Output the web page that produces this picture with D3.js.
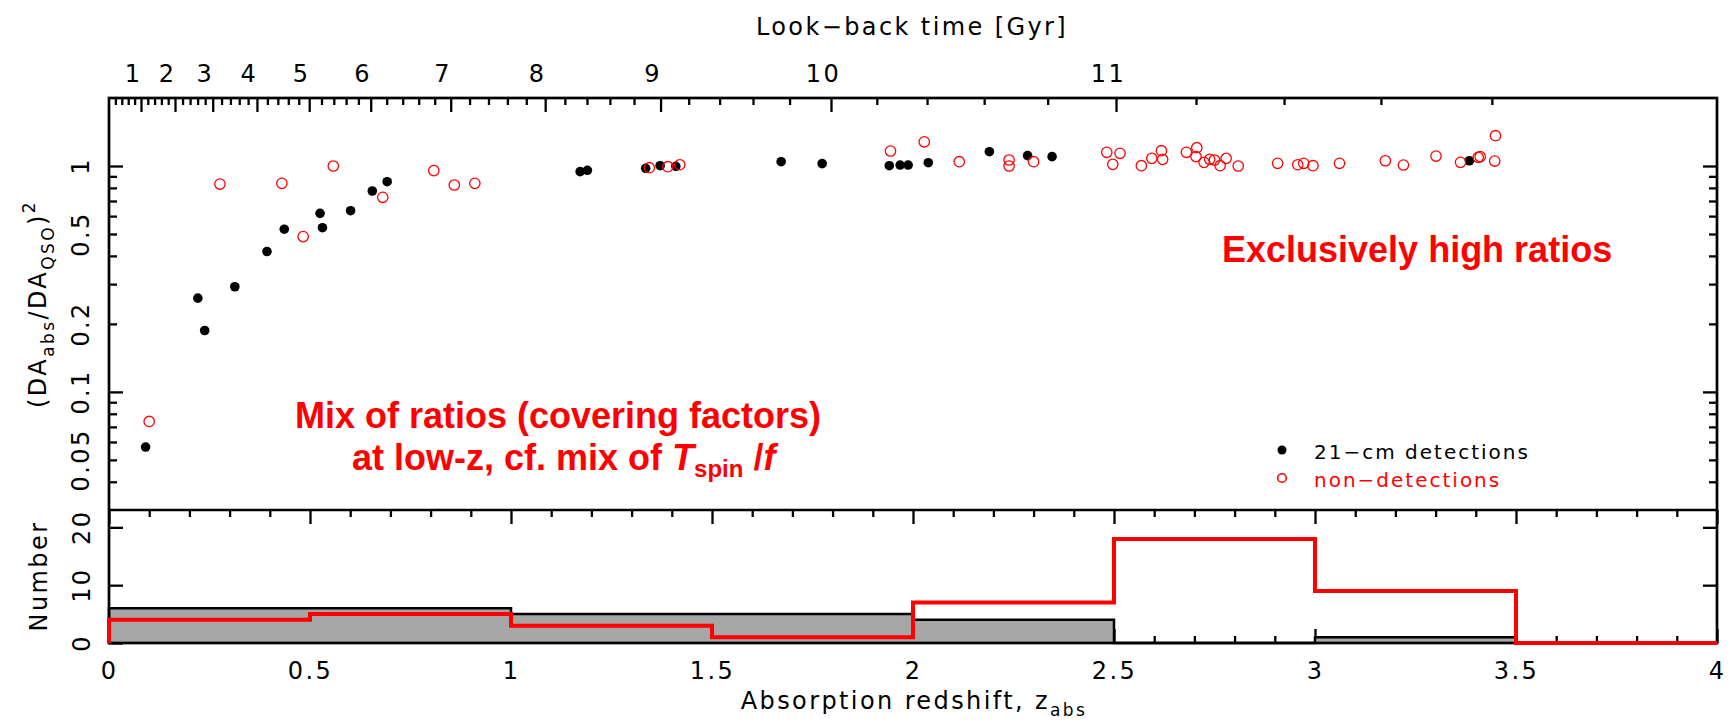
<!DOCTYPE html>
<html>
<head>
<meta charset="utf-8">
<script src="https://cdnjs.cloudflare.com/ajax/libs/d3/7.8.5/d3.min.js"></script>
<style>
body { margin:0; background:#fff; }
.pg { font-family:"DejaVu Sans", sans-serif; letter-spacing:0.1em; }
.tick line { stroke:#000; stroke-width:2.3; }
</style>
</head>
<body>
<div id="chart"></div>
<script>
// ---- data ----
// 21-cm detections: redshift and (DA_abs/DA_QSO)^2
var detZ = [0.091,0.221,0.238,0.313,0.393,0.436,0.525,0.531,0.601,0.655,0.692,
            1.172,1.190,1.335,1.371,1.410,1.672,1.774,1.941,1.968,1.988,
            2.038,2.190,2.285,2.346,3.384];
var detRatio = [0.057,0.26,0.187,0.292,0.418,0.525,0.617,0.533,0.634,0.775,0.852,
                0.944,0.957,0.977,1.003,0.997,1.045,1.024,1.003,1.010,1.010,
                1.034,1.157,1.111,1.10,1.055];

// non-detections
var nonZ = [0.100,0.276,0.430,0.483,0.558,0.681,0.808,0.859,0.910,
            1.344,1.390,1.420,1.944,
            2.028,2.115,2.239,2.239,2.300,2.482,2.497,
            2.515,2.568,2.594,2.618,2.621,2.680,2.706,2.704,2.724,2.738,2.750,2.764,2.779,2.809,
            2.907,2.957,2.972,2.995,
            3.061,3.175,3.220,3.301,3.362,3.406,3.411,3.447,3.449];
var nonRatio = [0.074,0.832,0.838,0.487,1.0,0.727,0.954,0.824,0.838,
                0.983,0.993,1.013,1.165,
                1.28,1.045,1.063,1.0,1.045,1.15,1.017,
                1.138,1.003,1.081,1.169,1.07,1.15,1.205,1.10,1.038,1.07,1.063,1.003,1.081,1.0,
                1.028,1.013,1.028,1.003,
                1.028,1.055,1.01,1.107,1.038,1.092,1.10,1.052,1.362];

// histogram (bins of 0.5 in z)
var binEdges = [0,0.5,1,1.5,2,2.5,3,3.5,4];
var histDet = [6,6,5,5,4,0,1,0];
var histNon = [4,5,3,1,7,18,9,0];

// look-back time axis: Gyr -> redshift
var lbGyr = [0,1,2,3,4,5,6,7,8,8.2,8.4,8.6,8.8,9,9.2,9.4,9.6,9.8,10,
             10.2,10.4,10.6,10.8,11,11.2,11.4,11.6,11.8];
var lbZ = [0,0.0796,0.1642,0.258,0.368,0.498,0.651,0.850,1.085,1.134,1.189,1.246,1.306,1.372,
           1.442,1.519,1.602,1.693,1.796,1.910,2.035,2.177,2.335,2.505,2.704,2.923,3.164,3.440];
var lbLabels = [1,2,3,4,5,6,7,8,9,10,11];

var zTicks = [0,0.5,1,1.5,2,2.5,3,3.5,4];
var ratioLabels = [0.05,0.1,0.2,0.5,1];
var ratioMajor = [0.1,1];
var ratioMinor = [0.04,0.05,0.06,0.07,0.08,0.09,0.2,0.3,0.4,0.5,0.6,0.7,0.8,0.9];
var numTicks = [0,10,20];

// ---- layout ----
var W = 1733, H = 728;
var pL = 109, pR = 1717, pT = 98, pM = 510, pB = 643;

var svg = d3.select("#chart").append("svg")
    .attr("width", W).attr("height", H);

var x = d3.scaleLinear().domain([0,4]).range([pL,pR]);
var y = d3.scaleLog().domain([0.03,2]).range([pM,pT]);
var yh = d3.scaleLinear().domain([0,23]).range([pB,pM]);
var lb = d3.scaleLinear().domain(lbGyr).range(lbZ.map(function(z){ return x(z); }));

var lbMinor = d3.range(1,60).filter(function(i){ return i % 5 != 0; })
                .map(function(i){ return i/5; });
var zMinor = d3.range(1,40).filter(function(i){ return i % 5 != 0; })
                .map(function(i){ return i/10; });

function styleAxis(g) {
  g.select(".domain").remove();
  g.selectAll("text").attr("class","pg").attr("font-size",24)
    .attr("font-family","DejaVu Sans").attr("fill","#000");
}

// top axis: look-back time
svg.append("g").attr("transform","translate(0,"+pT+")")
   .call(d3.axisTop(lb).tickValues(lbMinor).tickSize(-7).tickFormat(""))
   .call(styleAxis);
svg.append("g").attr("transform","translate(0,"+pT+")")
   .call(d3.axisTop(lb).tickValues(lbLabels).tickSize(-14).tickPadding(16))
   .call(styleAxis)
   .selectAll("text").attr("dx",-8);

// upper panel y ticks (left + right), histogram count ticks
[[d3.axisLeft, pL],[d3.axisRight, pR]].forEach(function(a){
  svg.append("g").attr("transform","translate("+a[1]+",0)")
     .call(a[0](y).tickValues(ratioMinor).tickSize(-8).tickFormat(""))
     .call(styleAxis);
  svg.append("g").attr("transform","translate("+a[1]+",0)")
     .call(a[0](y).tickValues(ratioMajor).tickSize(-14).tickFormat(""))
     .call(styleAxis);
  svg.append("g").attr("transform","translate("+a[1]+",0)")
     .call(a[0](yh).tickValues(numTicks).tickSize(-14).tickFormat(""))
     .call(styleAxis);
});

// z ticks: top of histogram panel (down) and bottom (up)
svg.append("g").attr("transform","translate(0,"+pM+")")
   .call(d3.axisBottom(x).tickValues(zMinor).tickSize(7).tickFormat("")).call(styleAxis);
svg.append("g").attr("transform","translate(0,"+pM+")")
   .call(d3.axisBottom(x).tickValues(zTicks).tickSize(14).tickFormat("")).call(styleAxis);
svg.append("g").attr("transform","translate(0,"+pB+")")
   .call(d3.axisBottom(x).tickValues(zMinor).tickSize(-7).tickFormat("")).call(styleAxis);
svg.append("g").attr("transform","translate(0,"+pB+")")
   .call(d3.axisBottom(x).tickValues(zTicks).tickSize(-14).tickPadding(19)
         .tickFormat(function(d){ return d3.format("")(d); }))
   .call(styleAxis);

// rotated y tick labels
svg.selectAll(".ylab").data(ratioLabels).enter().append("text")
   .attr("class","pg").attr("font-size",24).attr("text-anchor","middle")
   .attr("transform", function(d){ return "translate(89,"+y(d)+") rotate(-90)"; })
   .text(function(d){ return d; });
svg.selectAll(".hlab").data(numTicks).enter().append("text")
   .attr("class","pg").attr("font-size",24).attr("text-anchor","middle")
   .attr("transform", function(d){ return "translate(90,"+yh(d)+") rotate(-90)"; })
   .text(function(d){ return d; });

// histogram
function stepPoints(counts) {
  var p = [[0,0]];
  counts.forEach(function(c,i){ p.push([binEdges[i], c]); });
  p.push([4, counts[counts.length-1]]);
  p.push([4, 0]);
  return p;
}
var step = d3.line().curve(d3.curveStepAfter)
    .x(function(d){ return x(d[0]); }).y(function(d){ return yh(d[1]); });

svg.append("path").attr("d", step(stepPoints(histDet)) + "Z")
   .attr("fill","#a6a6a6").attr("stroke","none");
svg.append("path").attr("d", step(stepPoints(histDet)))
   .attr("fill","none").attr("stroke","#000").attr("stroke-width",2.5);

// frame
var frame = svg.append("g").attr("fill","none").attr("stroke","#000").attr("stroke-width",2.7);
frame.append("rect").attr("x",pL).attr("y",pT).attr("width",pR-pL).attr("height",pB-pT);
frame.append("line").attr("x1",pL).attr("x2",pR).attr("y1",pM).attr("y2",pM);

svg.append("path").attr("d", step(stepPoints(histNon)))
   .attr("fill","none").attr("stroke","#ff0000").attr("stroke-width",4);

// scatter points
svg.append("g").selectAll("circle").data(detZ).enter().append("circle")
   .attr("cx", function(d){ return x(d); })
   .attr("cy", function(d,i){ return y(detRatio[i]); })
   .attr("r",4.8).attr("fill","#000");
svg.append("g").selectAll("circle").data(nonZ).enter().append("circle")
   .attr("cx", function(d){ return x(d); })
   .attr("cy", function(d,i){ return y(nonRatio[i]); })
   .attr("r",5.2).attr("fill","none").attr("stroke","#ff0000").attr("stroke-width",1.3);

// axis titles
svg.append("text").attr("class","pg").attr("font-size",24).attr("text-anchor","middle")
   .attr("x",912).attr("y",35).text("Look\u2212back time [Gyr]");

var xt = svg.append("text").attr("class","pg").attr("font-size",24).attr("text-anchor","middle")
   .attr("x",914).attr("y",709);
xt.append("tspan").text("Absorption redshift, z");
xt.append("tspan").attr("font-size",17).attr("dy",7).text("abs");

var yt = svg.append("text").attr("class","pg").attr("font-size",24).attr("text-anchor","middle")
   .attr("transform","translate(46,304) rotate(-90)");
yt.append("tspan").text("(DA");
yt.append("tspan").attr("font-size",17).attr("dy",8).text("abs");
yt.append("tspan").attr("dy",-8).text("/DA");
yt.append("tspan").attr("font-size",17).attr("dy",8).text("QSO");
yt.append("tspan").attr("dy",-8).text(")");
yt.append("tspan").attr("font-size",17).attr("dy",-11).text("2");

svg.append("text").attr("class","pg").attr("font-size",24).attr("text-anchor","middle")
   .attr("transform","translate(47,576) rotate(-90)").text("Number");

// legend
svg.append("circle").attr("cx",1282).attr("cy",450).attr("r",4.5).attr("fill","#000");
svg.append("text").attr("class","pg").attr("font-size",20).attr("x",1314).attr("y",459)
   .text("21\u2212cm detections");
svg.append("circle").attr("cx",1282).attr("cy",478).attr("r",4.3)
   .attr("fill","none").attr("stroke","#ff0000").attr("stroke-width",1.6);
svg.append("text").attr("class","pg").attr("font-size",20).attr("x",1314).attr("y",487)
   .attr("fill","#ff0000").text("non\u2212detections");

// red annotations
function note(x0, by, anchor) {
  return svg.append("text").attr("x",x0).attr("y",by)
    .attr("text-anchor",anchor).attr("fill","#ff0000")
    .attr("font-family","Liberation Sans, Arial, sans-serif").attr("font-weight","bold")
    .attr("font-size",36);
}
note(1222,262,"start").text("Exclusively high ratios");
note(295,428,"start").text("Mix of ratios (covering factors)");
var n2 = note(352,470,"start");
n2.append("tspan").text("at low-z, cf. mix of ");
n2.append("tspan").attr("font-style","italic").text("T");
n2.append("tspan").attr("font-size",24).attr("dy",7).text("spin");
n2.append("tspan").attr("dy",-7).text(" /");
n2.append("tspan").attr("font-style","italic").text("f");
</script>
</body>
</html>
